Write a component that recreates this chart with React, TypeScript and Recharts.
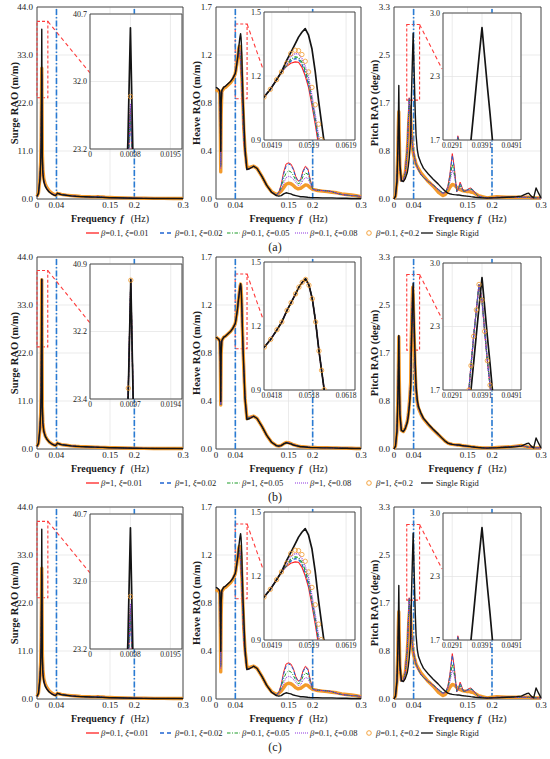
import React from 'react';
import { LineChart, Line, XAxis, YAxis, CartesianGrid, ReferenceLine, ReferenceArea } from 'recharts';

const FONT = '"Liberation Serif", "Times New Roman", Times, serif';
const C = {
  red: '#FF2222', blue: '#1F64D2', green: '#1E9E2A', purple: '#8E35E0', orange: '#F39A2B', black: '#141414',
  refBlue: '#2A7BD3', zoom: '#FF3B3B', grid: '#E2E2E2', box: '#3A3A3A', text: '#1A1A1A',
};

// ---------- axes / ticks ----------
const MAIN_X_TICKS = [0, 0.04, 0.15, 0.2, 0.3];
const MAIN_X_LABELS = ['0', '0.04', '0.15', '0.2', '0.3'];
const REF_FREQS = [0.04, 0.2];

const surgeYTicks = [0, 11, 22, 33, 44];
const surgeYLabels = ['0.0', '11.0', '22.0', '33.0', '44.0'];
const heaveYTicks = [0, 0.425, 0.85, 1.275, 1.7];
const heaveYLabels = ['0.0', '0.4', '0.8', '1.2', '1.7'];
const pitchYTicks = [0, 0.825, 1.65, 2.475, 3.3];
const pitchYLabels = ['0.0', '0.8', '1.7', '2.5', '3.3'];

// ---------- surge ----------
const surgeFreq = [0, 0.003, 0.006, 0.0075, 0.0085, 0.0092, 0.0098, 0.0104, 0.011, 0.012, 0.014, 0.017, 0.02, 0.025, 0.03, 0.035, 0.038, 0.04, 0.042, 0.045, 0.05, 0.06, 0.07, 0.08, 0.09, 0.1, 0.11, 0.12, 0.125, 0.13, 0.135, 0.14, 0.15, 0.16, 0.18, 0.2, 0.22, 0.24, 0.26, 0.28, 0.3];
const surgeRigid = [0.6, 1.3, 4.5, 8.0, 13.0, 24.5, 38.9, 22.5, 9.5, 6.0, 4.0, 2.9, 2.3, 1.6, 1.2, 0.9, 0.8, 1.0, 1.35, 1.2, 1.0, 0.85, 0.72, 0.62, 0.55, 0.5, 0.45, 0.42, 0.4, 0.38, 0.37, 0.35, 0.3, 0.27, 0.22, 0.18, 0.15, 0.13, 0.12, 0.12, 0.1];
const surgeA001 = [0.6, 1.3, 4.6, 8.2, 13.5, 21.0, 28.3, 20.0, 9.8, 6.2, 4.1, 3.0, 2.4, 1.7, 1.25, 0.95, 0.82, 1.0, 1.3, 1.2, 1.0, 0.85, 0.72, 0.62, 0.55, 0.5, 0.47, 0.5, 0.62, 0.55, 0.42, 0.36, 0.3, 0.27, 0.22, 0.18, 0.15, 0.13, 0.12, 0.12, 0.1];
const surgeA002 = [0.6, 1.3, 4.6, 8.2, 13.4, 20.8, 27.5, 19.8, 9.8, 6.2, 4.1, 3.0, 2.4, 1.7, 1.25, 0.95, 0.82, 1.0, 1.3, 1.2, 1.0, 0.85, 0.72, 0.62, 0.55, 0.5, 0.47, 0.5, 0.6, 0.54, 0.42, 0.36, 0.3, 0.27, 0.22, 0.18, 0.15, 0.13, 0.12, 0.12, 0.1];
const surgeA005 = [0.6, 1.3, 4.6, 8.3, 13.6, 21.3, 28.5, 20.2, 9.9, 6.3, 4.2, 3.1, 2.45, 1.72, 1.27, 0.96, 0.83, 1.0, 1.3, 1.2, 1.0, 0.86, 0.73, 0.63, 0.56, 0.5, 0.47, 0.48, 0.55, 0.5, 0.42, 0.37, 0.31, 0.27, 0.22, 0.18, 0.15, 0.13, 0.12, 0.12, 0.1];
const surgeA008 = [0.6, 1.35, 4.7, 8.4, 13.8, 21.6, 29.0, 20.5, 10.1, 6.4, 4.3, 3.2, 2.5, 1.75, 1.3, 0.98, 0.85, 1.02, 1.3, 1.2, 1.02, 0.87, 0.75, 0.65, 0.57, 0.52, 0.48, 0.47, 0.5, 0.48, 0.43, 0.38, 0.32, 0.28, 0.23, 0.19, 0.16, 0.14, 0.13, 0.12, 0.11];
const surgeA020 = [0.6, 1.4, 4.8, 8.5, 14.0, 22.0, 30.0, 21.0, 10.5, 6.8, 4.6, 3.4, 2.7, 1.9, 1.4, 1.05, 0.9, 1.05, 1.3, 1.2, 1.05, 0.9, 0.78, 0.68, 0.6, 0.55, 0.5, 0.48, 0.5, 0.48, 0.45, 0.4, 0.34, 0.3, 0.25, 0.2, 0.17, 0.15, 0.14, 0.13, 0.12];
const surgeB = [0.6, 1.3, 4.5, 8.0, 13.0, 24.8, 38.8, 22.8, 9.6, 6.1, 4.1, 3.0, 2.35, 1.65, 1.22, 0.92, 0.82, 1.02, 1.35, 1.2, 1.0, 0.85, 0.72, 0.62, 0.55, 0.5, 0.45, 0.42, 0.4, 0.38, 0.37, 0.35, 0.3, 0.27, 0.22, 0.18, 0.15, 0.13, 0.12, 0.12, 0.1];

// ---------- heave ----------
const heaveFreq = [
  0, 0.003, 0.006, 0.008, 0.009, 0.0098, 0.0106, 0.012, 0.016, 0.02, 0.025, 0.03, 0.035,
  0.0398, 0.0415, 0.0432, 0.0445, 0.0459, 0.047, 0.0482, 0.0491, 0.05, 0.0509, 0.0518, 0.0527, 0.0536, 0.0545, 0.0552, 0.0559,
  0.0575, 0.06, 0.064, 0.07, 0.078, 0.085, 0.095, 0.105, 0.115, 0.125,
  0.13, 0.135, 0.14, 0.145, 0.15, 0.155, 0.16, 0.165, 0.17, 0.175, 0.18, 0.185, 0.19, 0.195, 0.2, 0.205, 0.21,
  0.22, 0.23, 0.24, 0.25, 0.26, 0.27, 0.28, 0.29, 0.3,
];
const heaveRigid = [
  0.99, 0.98, 0.97, 0.95, 0.80, 0.42, 0.84, 0.96, 0.99, 1.00, 1.02, 1.04, 1.07,
  1.11, 1.15, 1.20, 1.24, 1.30, 1.34, 1.385, 1.42, 1.445, 1.464, 1.43, 1.36, 1.24, 1.09, 0.99, 0.89,
  0.72, 0.45, 0.26, 0.27, 0.29, 0.27, 0.20, 0.12, 0.06, 0.03,
  0.025, 0.03, 0.045, 0.055, 0.05, 0.045, 0.035, 0.03, 0.025, 0.02, 0.02, 0.018, 0.015, 0.013, 0.012, 0.012, 0.012,
  0.01, 0.01, 0.01, 0.008, 0.007, 0.006, 0.005, 0.004, 0.004,
];
const heaveA001 = [
  0.99, 0.98, 0.97, 0.94, 0.70, 0.30, 0.78, 0.96, 0.99, 1.00, 1.02, 1.04, 1.07,
  1.11, 1.15, 1.20, 1.24, 1.27, 1.285, 1.292, 1.29, 1.265, 1.22, 1.16, 1.07, 0.97, 0.86, 0.77, 0.69,
  0.52, 0.40, 0.26, 0.27, 0.29, 0.27, 0.20, 0.12, 0.06, 0.035,
  0.06, 0.13, 0.24, 0.31, 0.32, 0.31, 0.27, 0.20, 0.16, 0.17, 0.25, 0.29, 0.27, 0.17, 0.09, 0.08, 0.078,
  0.075, 0.072, 0.065, 0.05, 0.04, 0.035, 0.03, 0.03, 0.02,
];
const heaveA002 = [
  0.99, 0.98, 0.97, 0.94, 0.70, 0.30, 0.78, 0.96, 0.99, 1.00, 1.02, 1.04, 1.07,
  1.11, 1.15, 1.20, 1.24, 1.272, 1.295, 1.309, 1.305, 1.28, 1.235, 1.175, 1.085, 0.985, 0.875, 0.785, 0.70,
  0.53, 0.40, 0.26, 0.27, 0.29, 0.27, 0.20, 0.12, 0.06, 0.035,
  0.06, 0.12, 0.22, 0.29, 0.31, 0.30, 0.26, 0.19, 0.155, 0.165, 0.24, 0.28, 0.26, 0.165, 0.09, 0.08, 0.078,
  0.075, 0.072, 0.065, 0.05, 0.04, 0.035, 0.03, 0.03, 0.02,
];
const heaveA005 = [
  0.99, 0.98, 0.97, 0.94, 0.68, 0.28, 0.77, 0.96, 0.99, 1.00, 1.02, 1.04, 1.07,
  1.11, 1.15, 1.20, 1.24, 1.275, 1.305, 1.318, 1.315, 1.29, 1.25, 1.19, 1.10, 1.00, 0.89, 0.80, 0.72,
  0.55, 0.41, 0.26, 0.27, 0.29, 0.27, 0.20, 0.12, 0.06, 0.035,
  0.055, 0.10, 0.18, 0.23, 0.25, 0.24, 0.21, 0.165, 0.135, 0.145, 0.20, 0.23, 0.22, 0.15, 0.09, 0.08, 0.078,
  0.075, 0.072, 0.065, 0.05, 0.04, 0.035, 0.03, 0.03, 0.02,
];
const heaveA008 = [
  0.99, 0.98, 0.97, 0.94, 0.66, 0.27, 0.76, 0.96, 0.99, 1.00, 1.02, 1.04, 1.07,
  1.11, 1.15, 1.20, 1.24, 1.28, 1.32, 1.335, 1.332, 1.31, 1.27, 1.21, 1.12, 1.02, 0.91, 0.82, 0.74,
  0.56, 0.42, 0.26, 0.27, 0.29, 0.27, 0.20, 0.12, 0.06, 0.035,
  0.05, 0.08, 0.14, 0.19, 0.20, 0.195, 0.175, 0.145, 0.12, 0.125, 0.165, 0.19, 0.185, 0.13, 0.085, 0.08, 0.077,
  0.074, 0.07, 0.064, 0.05, 0.04, 0.035, 0.03, 0.03, 0.02,
];
const heaveA020 = [
  0.97, 0.96, 0.96, 0.93, 0.62, 0.24, 0.74, 0.95, 0.98, 0.99, 1.01, 1.03, 1.06,
  1.11, 1.15, 1.20, 1.24, 1.285, 1.335, 1.352, 1.35, 1.33, 1.295, 1.24, 1.16, 1.07, 0.97, 0.89, 0.81,
  0.62, 0.44, 0.28, 0.28, 0.29, 0.27, 0.20, 0.12, 0.065, 0.04,
  0.05, 0.07, 0.10, 0.13, 0.14, 0.135, 0.12, 0.10, 0.09, 0.095, 0.11, 0.125, 0.12, 0.10, 0.085, 0.08, 0.075,
  0.07, 0.065, 0.06, 0.055, 0.045, 0.04, 0.035, 0.03, 0.02,
];
const heaveB = [
  0.99, 0.98, 0.97, 0.95, 0.78, 0.39, 0.83, 0.96, 0.99, 1.00, 1.02, 1.04, 1.07,
  1.11, 1.15, 1.20, 1.24, 1.30, 1.34, 1.385, 1.42, 1.445, 1.46, 1.43, 1.36, 1.24, 1.09, 0.99, 0.89,
  0.71, 0.45, 0.27, 0.28, 0.29, 0.27, 0.20, 0.12, 0.06, 0.03,
  0.026, 0.032, 0.046, 0.058, 0.056, 0.048, 0.038, 0.032, 0.026, 0.022, 0.02, 0.018, 0.016, 0.014, 0.013, 0.013, 0.012,
  0.011, 0.011, 0.01, 0.009, 0.008, 0.007, 0.006, 0.005, 0.005,
];

// ---------- pitch ----------
const pitchFreq = [
  0, 0.003, 0.006, 0.008, 0.009, 0.0098, 0.0106, 0.012, 0.015, 0.019, 0.023, 0.027,
  0.029, 0.031, 0.0325, 0.034, 0.0347, 0.0354, 0.0363, 0.0372, 0.0381, 0.0391, 0.04, 0.0409, 0.0418, 0.0426, 0.0435,
  0.045, 0.0475, 0.05, 0.055, 0.06, 0.07, 0.08, 0.09, 0.1,
  0.105, 0.11, 0.114, 0.119, 0.123, 0.128, 0.132, 0.135, 0.138, 0.142, 0.148, 0.153, 0.157, 0.162, 0.166, 0.172, 0.18,
  0.19, 0.2, 0.21, 0.22, 0.23, 0.24, 0.25, 0.26, 0.265, 0.27, 0.275, 0.28, 0.285, 0.29, 0.295, 0.3,
];
const pitchRigid = [
  0, 0.05, 0.3, 0.9, 1.4, 1.95, 1.3, 0.6, 0.32, 0.30, 0.35, 0.45,
  0.55, 0.7, 0.85, 1.05, 1.3, 1.70, 1.98, 2.27, 2.55, 2.85, 2.55, 2.25, 1.97, 1.70, 1.45,
  1.1, 0.85, 0.73, 0.62, 0.53, 0.43, 0.34, 0.26, 0.17,
  0.13, 0.10, 0.09, 0.08, 0.075, 0.07, 0.07, 0.065, 0.06, 0.055, 0.05, 0.045, 0.04, 0.035, 0.03, 0.025, 0.02,
  0.015, 0.02, 0.02, 0.025, 0.03, 0.035, 0.04, 0.05, 0.07, 0.09, 0.1, 0.05, 0.02, 0.19, 0.1, 0.02,
];
const pitchA001 = [
  0, 0.05, 0.3, 0.8, 1.2, 1.45, 1.0, 0.5, 0.3, 0.32, 0.45, 0.85,
  1.30, 1.74, 1.55, 1.35, 1.25, 1.15, 1.05, 0.97, 0.90, 0.84, 0.79, 0.75, 0.71, 0.68, 0.65,
  0.6, 0.55, 0.5, 0.42, 0.37, 0.30, 0.24, 0.17, 0.10,
  0.12, 0.22, 0.42, 0.78, 0.55, 0.12, 0.20, 0.29, 0.22, 0.13, 0.15, 0.18, 0.19, 0.15, 0.10, 0.05, 0.03,
  0.02, 0.02, 0.03, 0.03, 0.03, 0.03, 0.03, 0.03, 0.03, 0.03, 0.03, 0.02, 0.02, 0.02, 0.02, 0.02,
];
const pitchA002 = [
  0, 0.05, 0.3, 0.8, 1.2, 1.45, 1.0, 0.5, 0.3, 0.32, 0.45, 0.85,
  1.28, 1.73, 1.55, 1.35, 1.25, 1.15, 1.05, 0.97, 0.90, 0.84, 0.79, 0.75, 0.71, 0.68, 0.65,
  0.6, 0.55, 0.5, 0.42, 0.37, 0.30, 0.24, 0.17, 0.10,
  0.12, 0.21, 0.40, 0.75, 0.52, 0.13, 0.19, 0.27, 0.21, 0.13, 0.15, 0.17, 0.18, 0.15, 0.10, 0.05, 0.03,
  0.02, 0.02, 0.03, 0.03, 0.03, 0.03, 0.03, 0.03, 0.03, 0.03, 0.03, 0.02, 0.02, 0.02, 0.02, 0.02,
];
const pitchA005 = [
  0, 0.05, 0.3, 0.82, 1.22, 1.45, 1.02, 0.5, 0.3, 0.32, 0.45, 0.84,
  1.26, 1.72, 1.55, 1.36, 1.25, 1.15, 1.05, 0.97, 0.90, 0.84, 0.79, 0.75, 0.71, 0.68, 0.65,
  0.6, 0.55, 0.5, 0.42, 0.37, 0.30, 0.24, 0.16, 0.10,
  0.11, 0.19, 0.34, 0.60, 0.45, 0.15, 0.17, 0.23, 0.19, 0.13, 0.14, 0.16, 0.17, 0.14, 0.10, 0.05, 0.03,
  0.02, 0.02, 0.03, 0.03, 0.03, 0.03, 0.03, 0.03, 0.03, 0.03, 0.03, 0.02, 0.02, 0.02, 0.02, 0.02,
];
const pitchA008 = [
  0, 0.05, 0.3, 0.84, 1.24, 1.46, 1.03, 0.52, 0.3, 0.32, 0.45, 0.83,
  1.24, 1.71, 1.55, 1.36, 1.25, 1.15, 1.05, 0.97, 0.90, 0.84, 0.79, 0.75, 0.71, 0.68, 0.65,
  0.6, 0.55, 0.5, 0.43, 0.38, 0.30, 0.23, 0.15, 0.09,
  0.11, 0.17, 0.29, 0.50, 0.40, 0.17, 0.16, 0.20, 0.17, 0.13, 0.14, 0.15, 0.16, 0.13, 0.10, 0.05, 0.03,
  0.02, 0.02, 0.03, 0.03, 0.03, 0.03, 0.03, 0.03, 0.03, 0.03, 0.03, 0.02, 0.02, 0.02, 0.02, 0.02,
];
const pitchA020 = [
  0, 0.05, 0.3, 0.9, 1.3, 1.5, 1.1, 0.55, 0.32, 0.33, 0.45, 0.8,
  1.1, 1.45, 1.58, 1.40, 1.25, 1.12, 1.0, 0.92, 0.85, 0.8, 0.76, 0.73, 0.7, 0.68, 0.65,
  0.6, 0.56, 0.52, 0.45, 0.4, 0.3, 0.22, 0.12, 0.06,
  0.08, 0.14, 0.20, 0.25, 0.24, 0.20, 0.17, 0.16, 0.15, 0.14, 0.13, 0.13, 0.12, 0.11, 0.09, 0.06, 0.04,
  0.02, 0.03, 0.04, 0.035, 0.03, 0.03, 0.03, 0.03, 0.03, 0.03, 0.03, 0.025, 0.02, 0.02, 0.02, 0.02,
];
const pitchB = [
  0, 0.05, 0.3, 0.9, 1.4, 1.93, 1.3, 0.6, 0.32, 0.30, 0.36, 0.47,
  0.58, 0.75, 0.92, 1.15, 1.70, 1.95, 2.25, 2.52, 2.78, 2.62, 2.30, 2.00, 1.75, 1.50, 1.28,
  1.0, 0.8, 0.7, 0.6, 0.52, 0.42, 0.33, 0.25, 0.17,
  0.13, 0.10, 0.09, 0.08, 0.075, 0.07, 0.07, 0.065, 0.06, 0.055, 0.05, 0.045, 0.04, 0.035, 0.03, 0.025, 0.02,
  0.02, 0.02, 0.025, 0.03, 0.035, 0.04, 0.05, 0.06, 0.05, 0.04, 0.03, 0.03, 0.02, 0.02, 0.02, 0.02,
];

// ---------- insets (zoom windows) ----------
const SURGE_INSET_A = { xDomain: [0, 0.0223], xTicks: [0, 0.0098, 0.0195], xLabels: ['0', '0.0098', '0.0195'], yDomain: [23.2, 40.7], yTicks: [23.2, 31.95, 40.7], yLabels: ['23.2', '32.0', '40.7'] };
const SURGE_INSET_B = { xDomain: [0, 0.0221], xTicks: [0, 0.0097, 0.0194], xLabels: ['0', '0.0097', '0.0194'], yDomain: [23.4, 40.9], yTicks: [23.4, 32.15, 40.9], yLabels: ['23.4', '32.2', '40.9'] };
const HEAVE_INSET_A = { xDomain: [0.0398, 0.0643], xTicks: [0.0419, 0.0519, 0.0619], xLabels: ['0.0419', '0.0519', '0.0619'], yDomain: [0.888, 1.55], yTicks: [0.888, 1.219, 1.55], yLabels: ['0.9', '1.2', '1.5'] };
const HEAVE_INSET_B = { xDomain: [0.0397, 0.0642], xTicks: [0.0418, 0.0518, 0.0618], xLabels: ['0.0418', '0.0518', '0.0618'], yDomain: [0.888, 1.55], yTicks: [0.888, 1.219, 1.55], yLabels: ['0.9', '1.2', '1.5'] };
const PITCH_INSET = { xDomain: [0.026, 0.0522], xTicks: [0.0291, 0.0391, 0.0491], xLabels: ['0.0291', '0.0391', '0.0491'], yDomain: [1.7, 3.0], yTicks: [1.7, 2.35, 3.0], yLabels: ['1.7', '2.3', '3.0'] };

// connector end (data units of the main axes) from zoom box to inset
const SURGE_LINK_END = { x: 0.1089, y: 28.9 };
const HEAVE_LINK_END = { x: 0.0972, y: 1.151 };
const PITCH_LINK_END = { x: 0.098, y: 2.234 };

const XI_LABELS = ['0.01', '0.02', '0.05', '0.08', '0.2'];

// ---------- layout ----------
const COLS = [
  { key: 'surge', freq: surgeFreq, yMax: 44, yTicks: surgeYTicks, yLabels: surgeYLabels, title: 'Surge RAO (m/m)', titleDx: -23, box: { x: 37, y: 7, w: 146, h: 192 }, ibox: { x: 90, y: 14, w: 92, h: 135 }, linkEnd: SURGE_LINK_END },
  { key: 'heave', freq: heaveFreq, yMax: 1.7, yTicks: heaveYTicks, yLabels: heaveYLabels, title: 'Heave RAO (m/m)', titleDx: -20, box: { x: 216, y: 7, w: 145, h: 192 }, ibox: { x: 264, y: 12, w: 91, h: 128 }, linkEnd: HEAVE_LINK_END },
  { key: 'pitch', freq: pitchFreq, yMax: 3.3, yTicks: pitchYTicks, yLabels: pitchYLabels, title: 'Pitch RAO (deg/m)', titleDx: -20, box: { x: 394, y: 7, w: 147, h: 192 }, ibox: { x: 443, y: 13, w: 78, h: 127 }, linkEnd: PITCH_LINK_END },
];

const SERIES_A: any = {
  surge: { orange: surgeA020, red: surgeA001, blue: surgeA002, green: surgeA005, purple: surgeA008, black: surgeRigid },
  heave: { orange: heaveA020, red: heaveA001, blue: heaveA002, green: heaveA005, purple: heaveA008, black: heaveRigid },
  pitch: { orange: pitchA020, red: pitchA001, blue: pitchA002, green: pitchA005, purple: pitchA008, black: pitchRigid },
};
const SERIES_B: any = {
  surge: { orange: surgeB, red: surgeB, blue: surgeB, green: surgeB, purple: surgeB, black: surgeRigid },
  heave: { orange: heaveB, red: heaveB, blue: heaveB, green: heaveB, purple: heaveB, black: heaveRigid },
  pitch: { orange: pitchB, red: pitchB, blue: pitchB, green: pitchB, purple: pitchB, black: pitchRigid },
};
const INSETS_A: any = { surge: SURGE_INSET_A, heave: HEAVE_INSET_A, pitch: PITCH_INSET };
const INSETS_B: any = { surge: SURGE_INSET_B, heave: HEAVE_INSET_B, pitch: PITCH_INSET };

const ROWS = [
  { top: 0, tag: '(a)', beta: '0.1', series: SERIES_A, insets: INSETS_A },
  { top: 250, tag: '(b)', beta: '1', series: SERIES_B, insets: INSETS_B },
  { top: 500, tag: '(c)', beta: '0.1', series: SERIES_A, insets: INSETS_A },
];

const ORDER = ['orange', 'red', 'blue', 'green', 'purple', 'black'];

const MAIN_STYLE: any = {
  orange: { stroke: C.orange, strokeWidth: 3.4 },
  red: { stroke: C.red, strokeWidth: 1 },
  blue: { stroke: C.blue, strokeWidth: 1, strokeDasharray: '3.5 2' },
  green: { stroke: C.green, strokeWidth: 1, strokeDasharray: '3.5 1.5 1 1.5' },
  purple: { stroke: C.purple, strokeWidth: 1, strokeDasharray: '1 1' },
  black: { stroke: C.black, strokeWidth: 1.4 },
};
const INSET_STYLE: any = {
  red: { stroke: C.red, strokeWidth: 1.2 },
  blue: { stroke: C.blue, strokeWidth: 1.2, strokeDasharray: '3.5 2' },
  green: { stroke: C.green, strokeWidth: 1.2, strokeDasharray: '3.5 1.5 1 1.5' },
  purple: { stroke: C.purple, strokeWidth: 1.2, strokeDasharray: '1 1' },
  black: { stroke: C.black, strokeWidth: 1.7 },
};

function buildRows(freq: number[], s: any) {
  return freq.map((f, i) => ({
    f,
    orange: s.orange[i], red: s.red[i], blue: s.blue[i], green: s.green[i], purple: s.purple[i], black: s.black[i],
  }));
}

function FreqTitle({ viewBox }: any) {
  if (!viewBox) return null;
  const cx = viewBox.x + viewBox.width / 2;
  const cy = viewBox.y + 19;
  return (
    <text x={cx} y={cy} textAnchor="middle" dominantBaseline="central" fontFamily={FONT} fontSize={10} fill={C.text}>
      <tspan fontWeight="bold">Frequency</tspan>
      <tspan dx={4} fontWeight="bold" fontStyle="italic">f</tspan>
      <tspan dx={7}>(Hz)</tspan>
    </text>
  );
}

function YTitle({ viewBox, text, dx }: any) {
  if (!viewBox) return null;
  const cx = viewBox.x + viewBox.width + dx;
  const cy = viewBox.y + viewBox.height / 2;
  return (
    <text x={cx} y={cy} transform={`rotate(-90 ${cx} ${cy})`} textAnchor="middle" dominantBaseline="central"
      fontFamily={FONT} fontSize={10.5} fontWeight="bold" fill={C.text}>{text}</text>
  );
}

function MainPanel({ col, s, inset, top }: any) {
  const L = 42, T = 8, R = 10, B = 32;
  const b = col.box;
  const data = buildRows(col.freq, s);
  const tickStyle = { fontSize: 9, fill: C.text, fontFamily: FONT };
  return (
    <div style={{ position: 'absolute', left: b.x - L, top: top + b.y - T }}>
      <LineChart width={L + b.w + R} height={T + b.h + B} data={data} margin={{ top: T, right: R, bottom: 0, left: 0 }}>
        <CartesianGrid stroke={C.grid} strokeWidth={0.7} />
        <XAxis dataKey="f" type="number" domain={[0, 0.3]} ticks={MAIN_X_TICKS} interval={0}
          tickFormatter={(v: number, i: number) => MAIN_X_LABELS[i]} height={B} axisLine={false} tickLine={false}
          tickSize={0} tickMargin={3} tick={tickStyle}
          label={{ content: (lp: any) => <FreqTitle viewBox={lp.viewBox} /> }} />
        <YAxis type="number" domain={[0, col.yMax]} ticks={col.yTicks} interval={0}
          tickFormatter={(v: number, i: number) => col.yLabels[i]} width={L} axisLine={false} tickLine={false}
          tickSize={0} tickMargin={4} tick={tickStyle}
          label={{ content: (lp: any) => <YTitle viewBox={lp.viewBox} text={col.title} dx={col.titleDx} /> }} />
        {REF_FREQS.map((fx) => (
          <ReferenceLine key={fx} x={fx} stroke={C.refBlue} strokeWidth={1.6} strokeDasharray="6 2 1.5 2" />
        ))}
        {ORDER.map((k) => (
          <Line key={k} dataKey={k} type="linear" dot={false} activeDot={false} isAnimationActive={false}
            strokeLinejoin="round" {...MAIN_STYLE[k]} />
        ))}
        <ReferenceArea x1={0} x2={0.3} y1={0} y2={col.yMax} fill="none" stroke={C.box} strokeWidth={0.9} ifOverflow="visible" />
        <ReferenceArea x1={inset.xDomain[0]} x2={inset.xDomain[1]} y1={inset.yDomain[0]} y2={inset.yDomain[1]}
          fill="none" stroke={C.zoom} strokeWidth={1.1} strokeDasharray="3 2" ifOverflow="visible" />
        <ReferenceLine segment={[{ x: inset.xDomain[1], y: inset.yDomain[1] }, col.linkEnd]}
          stroke={C.zoom} strokeWidth={1.1} strokeDasharray="4 3" ifOverflow="visible" />
      </LineChart>
    </div>
  );
}

function InsetPanel({ col, s, inset, top }: any) {
  const L = 26, T = 5, R = 16, B = 16;
  const b = col.ibox;
  const data = buildRows(col.freq, s);
  const xTickStyle = { fontSize: 7.5, fill: C.text, fontFamily: FONT };
  const yTickStyle = { fontSize: 8, fill: C.text, fontFamily: FONT };
  const [x0, x1] = inset.xDomain;
  const [y0, y1] = inset.yDomain;
  const orangeDot = (p: any) => {
    const v = p.payload ? p.payload.orange : null;
    const f = p.payload ? p.payload.f : null;
    if (v == null || f < x0 || f > x1 || v < y0 || v > y1) return <g key={`od-${p.index}`} />;
    return <circle key={`od-${p.index}`} cx={p.cx} cy={p.cy} r={2.2} fill="none" stroke={C.orange} strokeWidth={0.8} />;
  };
  return (
    <div style={{ position: 'absolute', left: b.x - L, top: top + b.y - T }}>
      <LineChart width={L + b.w + R} height={T + b.h + B} data={data} margin={{ top: T, right: R, bottom: 0, left: 0 }}>
        <CartesianGrid stroke={C.grid} strokeWidth={0.7} fill="#ffffff" fillOpacity={1} />
        <XAxis dataKey="f" type="number" domain={inset.xDomain} allowDataOverflow ticks={inset.xTicks} interval={0}
          tickFormatter={(v: number, i: number) => inset.xLabels[i]} height={B} axisLine={false} tickLine={false}
          tickSize={0} tickMargin={3} tick={xTickStyle} />
        <YAxis type="number" domain={inset.yDomain} allowDataOverflow ticks={inset.yTicks} interval={0}
          tickFormatter={(v: number, i: number) => inset.yLabels[i]} width={L} axisLine={false} tickLine={false}
          tickSize={0} tickMargin={3} tick={yTickStyle} />
        {ORDER.map((k) =>
          k === 'orange' ? (
            <Line key={k} dataKey={k} type="linear" stroke="none" dot={orangeDot} activeDot={false} isAnimationActive={false} />
          ) : (
            <Line key={k} dataKey={k} type="linear" dot={false} activeDot={false} isAnimationActive={false}
              strokeLinejoin="round" {...INSET_STYLE[k]} />
          )
        )}
        <ReferenceArea x1={x0} x2={x1} y1={y0} y2={y1} fill="none" stroke={C.box} strokeWidth={0.9} ifOverflow="visible" />
      </LineChart>
    </div>
  );
}

const LEGEND_X = [86, 160, 227, 295, 364, 421];

function LegendRow({ y, beta }: { y: number; beta: string }) {
  const cy = 7;
  const fs = 8.5;
  const txt = (x: number, xi: string) => (
    <text x={x} y={cy} dominantBaseline="central" fontFamily={FONT} fontSize={fs} fill={C.text}>
      <tspan fontStyle="italic">β</tspan>
      <tspan>{`=${beta},`}</tspan>
      <tspan dx={2.5} fontStyle="italic">ξ</tspan>
      <tspan>{`=${xi}`}</tspan>
    </text>
  );
  return (
    <svg width={550} height={14} style={{ position: 'absolute', left: 0, top: y - 7 }}>
      <line x1={LEGEND_X[0]} x2={LEGEND_X[0] + 13} y1={cy} y2={cy} stroke={C.red} strokeWidth={1.3} />
      {txt(LEGEND_X[0] + 15, XI_LABELS[0])}
      <line x1={LEGEND_X[1]} x2={LEGEND_X[1] + 13} y1={cy} y2={cy} stroke={C.blue} strokeWidth={1.5} strokeDasharray="4 3" />
      {txt(LEGEND_X[1] + 15, XI_LABELS[1])}
      <line x1={LEGEND_X[2]} x2={LEGEND_X[2] + 13} y1={cy} y2={cy} stroke={C.green} strokeWidth={1.2} strokeDasharray="3.5 1.5 1 1.5" />
      {txt(LEGEND_X[2] + 15, XI_LABELS[2])}
      <line x1={LEGEND_X[3]} x2={LEGEND_X[3] + 13} y1={cy} y2={cy} stroke={C.purple} strokeWidth={1.2} strokeDasharray="1 1" />
      {txt(LEGEND_X[3] + 15, XI_LABELS[3])}
      <circle cx={LEGEND_X[4] + 5} cy={cy} r={2.3} fill="none" stroke={C.orange} strokeWidth={0.9} />
      {txt(LEGEND_X[4] + 12, XI_LABELS[4])}
      <line x1={LEGEND_X[5]} x2={LEGEND_X[5] + 12} y1={cy} y2={cy} stroke={C.black} strokeWidth={1.3} />
      <text x={LEGEND_X[5] + 15} y={cy} dominantBaseline="central" fontFamily={FONT} fontSize={fs} fill={C.text}>Single Rigid</text>
    </svg>
  );
}

export default function App() {
  return (
    <div style={{ position: 'absolute', left: 0, top: 0, width: 550, height: 759, background: '#fff', overflow: 'hidden', fontFamily: FONT }}>
      {ROWS.map((row) =>
        COLS.map((col) => (
          <MainPanel key={`m-${row.tag}-${col.key}`} col={col} s={row.series[col.key]} inset={row.insets[col.key]} top={row.top} />
        ))
      )}
      {ROWS.map((row) =>
        COLS.map((col) => (
          <InsetPanel key={`i-${row.tag}-${col.key}`} col={col} s={row.series[col.key]} inset={row.insets[col.key]} top={row.top} />
        ))
      )}
      {ROWS.map((row) => (
        <React.Fragment key={`l-${row.tag}`}>
          <LegendRow y={row.top + 233} beta={row.beta} />
          <div style={{ position: 'absolute', left: 0, width: 550, top: row.top + 240, textAlign: 'center', fontSize: 12, lineHeight: '14px', color: C.text }}>
            {row.tag}
          </div>
        </React.Fragment>
      ))}
    </div>
  );
}
